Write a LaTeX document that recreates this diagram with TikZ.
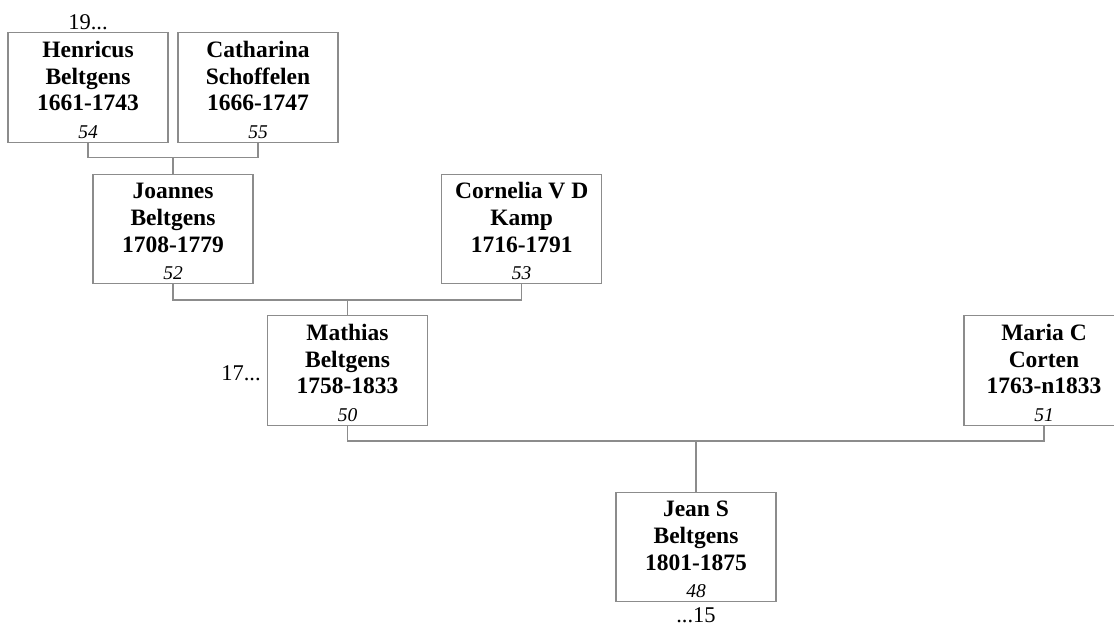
\documentclass[tikz,border=0pt]{standalone}
\usepackage{fontspec}
\setmainfont{Liberation Serif}
\definecolor{boxgray}{RGB}{140,140,140}
\newcommand{\gennum}[1]{{\fontsize{19.5}{22}\selectfont\mdseries\itshape #1}}
\newcommand{\tstrut}{\rule{0pt}{21pt}}
\begin{document}
\begin{tikzpicture}[x=1pt,y=-1pt,
  person/.style={draw=boxgray, line width=1.3pt, fill=white, minimum width=160pt,
    minimum height=109.5pt, inner sep=0pt, outer sep=0pt, align=center,
    font=\fontsize{23.5}{26.7}\selectfont\bfseries},
  conn/.style={draw=boxgray, line width=1.3pt},
  gen/.style={font=\fontsize{22.5}{26}\selectfont, anchor=base, inner sep=0pt}]
\useasboundingbox (0,0) rectangle (1114,627);
\node[person] (henricus) at (88,87.5) {\tstrut Henricus\\Beltgens\\1661-1743\\[1pt]\gennum{54}};
\node[person] (catharina) at (258,87.5) {\tstrut Catharina\\Schoffelen\\1666-1747\\[1pt]\gennum{55}};
\node[person] (joannes) at (173,229) {\tstrut Joannes\\Beltgens\\1708-1779\\[1pt]\gennum{52}};
\node[person] (cornelia) at (521.7,229) {\tstrut Cornelia V D\\Kamp\\1716-1791\\[1pt]\gennum{53}};
\node[person] (mathias) at (347.5,370.5) {\tstrut Mathias\\Beltgens\\1758-1833\\[1pt]\gennum{50}};
\node[person] (maria) at (1044,370.5) {\tstrut Maria C\\Corten\\1763-n1833\\[1pt]\gennum{51}};
\node[person] (jean) at (696,547) {\tstrut Jean S\\Beltgens\\1801-1875\\[1pt]\gennum{48}};
\coordinate (c1) at (173,157.7);
\coordinate (c2) at (347.5,300);
\coordinate (c3) at (696,441);
\draw[conn] (henricus.south) |- (c1) -| (catharina.south);
\draw[conn] (c1) -- (joannes.north);
\draw[conn] (joannes.south) |- (c2) -| (cornelia.south);
\draw[conn] (c2) -- (mathias.north);
\draw[conn] (mathias.south) |- (c3) -| (maria.south);
\draw[conn] (c3) -- (jean.north);
\node[gen] (g19) at (88,29) {19...};
\node[gen] (g17) at (241,380) {17...};
\node[gen] (g15) at (696,622.7) {...15};
\end{tikzpicture}
\end{document}
